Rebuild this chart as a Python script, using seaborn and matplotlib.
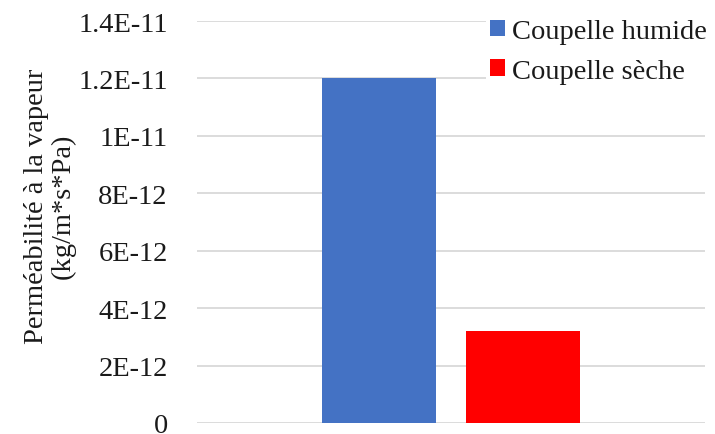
import matplotlib
matplotlib.use("Agg")
import matplotlib.pyplot as plt
import seaborn as sns
import pandas as pd
from matplotlib.patches import Patch

# Measured vapour permeability by cup method
series = ["Coupelle humide", "Coupelle sèche"]
values = [1.2e-11, 3.2e-12]
colors = ["#4472C4", "#FF0000"]
yticks = [0, 2e-12, 4e-12, 6e-12, 8e-12, 1e-11, 1.2e-11, 1.4e-11]
ytick_labels = ["0", "2E-12", "4E-12", "6E-12", "8E-12", "1E-11", "1.2E-11", "1.4E-11"]

df = pd.DataFrame({"cat": [""] * len(series), "serie": series, "val": values})

sns.set_theme(style="white")
plt.rcParams["font.family"] = ["Liberation Serif", "DejaVu Serif"]

FS = 20.5
fig = plt.figure(figsize=(7.15, 4.35), dpi=100)
ax = fig.add_axes([197 / 715, 11 / 435, 508 / 715, 402 / 435])

sns.barplot(data=df, x="cat", y="val", hue="serie", palette=colors,
            width=0.567, gap=0.215, ax=ax, legend=False, zorder=3,
            edgecolor="none", saturation=1)

ax.set_xlim(-0.5, 0.5)
ax.set_ylim(0, 1.4e-11)
ax.set_yticks(yticks)
ax.set_yticklabels(ytick_labels, fontsize=FS, color="#1a1a1a")
ax.set_xticks([])
ax.set_xlabel("")
ax.set_ylabel("")
ax.tick_params(axis="y", length=0, pad=21)
ax.grid(axis="y", color="#d9d9d9", linewidth=1.3, zorder=0)
ax.set_axisbelow(True)
for s in ax.spines.values():
    s.set_visible(False)

fig.text(50 / 715, (435 - 206) / 435,
         "Perméabilité à la vapeur\n(kg/m*s*Pa)",
         rotation=90, ha="center", va="center", fontsize=FS,
         color="#1a1a1a", linespacing=1.1)

handles = [Patch(facecolor=c, edgecolor="none") for c in colors]
leg = fig.legend(handles, series, loc="upper left",
                 bbox_to_anchor=(486 / 715, (435 - 16) / 435),
                 fontsize=FS, frameon=True, handlelength=0.5,
                 handleheight=0.5, handletextpad=0.25, labelspacing=0.5,
                 borderpad=0.15, borderaxespad=0)
leg.get_frame().set_facecolor("white")
leg.get_frame().set_edgecolor("none")
leg.get_frame().set_alpha(1)
for t in leg.get_texts():
    t.set_color("#1a1a1a")

fig.savefig("out.png", dpi=100)
